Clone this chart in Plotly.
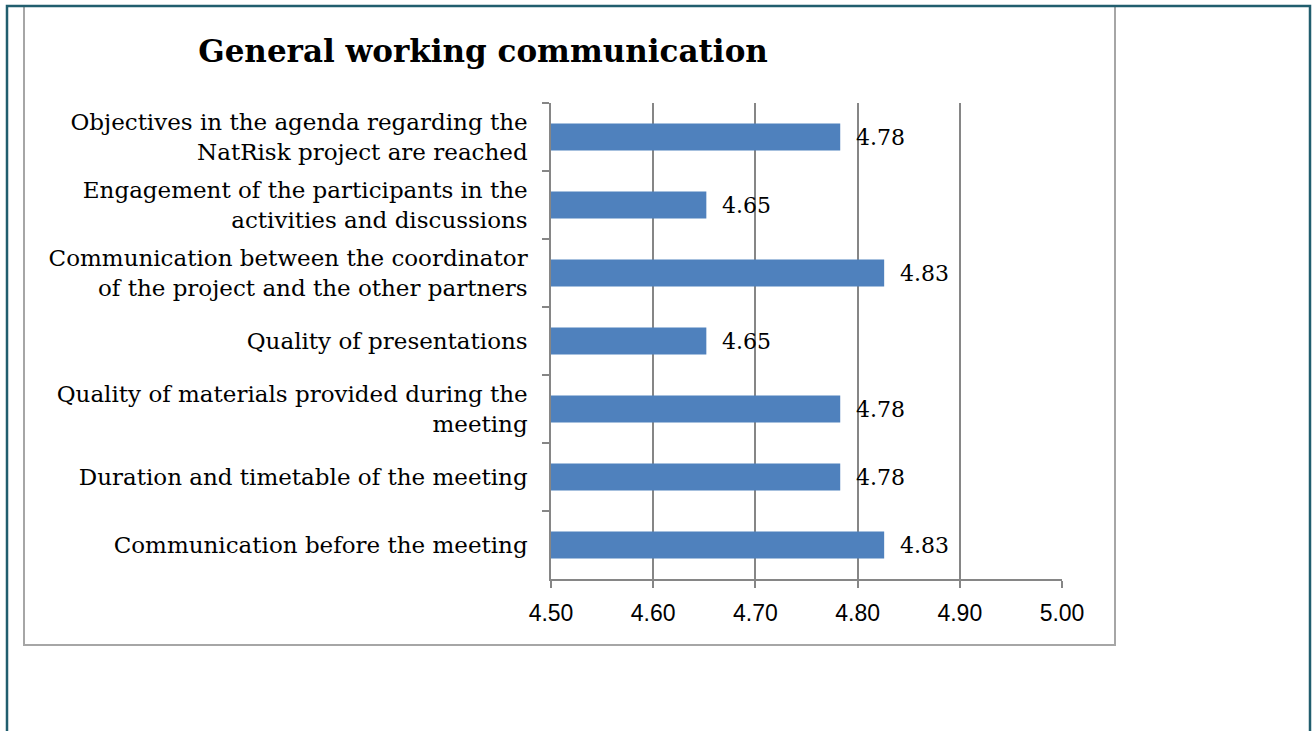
import plotly.graph_objects as go

# data, top to bottom as in the chart
categories = [
    "Objectives in the agenda regarding the<br>NatRisk project are reached",
    "Engagement of the participants in the<br>activities and discussions",
    "Communication between the coordinator<br>of the project and the other partners",
    "Quality of presentations",
    "Quality of materials provided during the<br>meeting",
    "Duration and timetable of the meeting",
    "Communication before the meeting",
]
scores = [4.783, 4.652, 4.826, 4.652, 4.783, 4.783, 4.826]
x_ticks = [4.5, 4.6, 4.7, 4.8, 4.9, 5.0]

W, H = 1314, 731
L, T = 551, 103
R = W - 1062
B = H - 579
pw, ph = W - L - R, H - T - B


def px(x):
    # screen pixel -> paper x
    return (x - L) / pw


def py(y):
    # screen pixel -> paper y
    return (H - B - y) / ph


serif = "DejaVu Serif"
grid = "#868686"

fig = go.Figure()
fig.add_trace(go.Bar(
    x=scores, y=categories, orientation="h",
    marker=dict(color="#4F81BD", line=dict(width=0)),
    hoverinfo="x+y",
))

# value labels a bit right of bar ends
for c, v in zip(categories, scores):
    fig.add_annotation(x=v, y=c, text="%.2f" % v, showarrow=False,
                       xanchor="left", xshift=14,
                       font=dict(family=serif, size=22, color="black"))

shapes = [
    # grey chart frame
    dict(type="rect", xref="paper", yref="paper",
         x0=px(24), x1=px(1115), y0=py(6), y1=py(645),
         line=dict(color="#a6a6a6", width=2), layer="below"),
    # outer teal page frame, open at the bottom
    dict(type="path", xref="paper", yref="paper",
         path="M %f %f L %f %f L %f %f L %f %f" % (
             px(7), py(740), px(7), py(6), px(1310), py(6), px(1310), py(740)),
         line=dict(color="#215E6E", width=2.5)),
]

fig.update_layout(
    width=W, height=H,
    margin=dict(l=L, r=R, t=T, b=B),
    paper_bgcolor="white", plot_bgcolor="white",
    bargap=0.6,
    showlegend=False,
    shapes=shapes,
    title=dict(text="<b>General working communication</b>",
               x=483 / W, xref="container", xanchor="center",
               y=1 - 51 / H, yref="container", yanchor="middle",
               font=dict(family=serif, size=31, color="black")),
)

fig.update_xaxes(
    range=[4.5, 5.0], tickvals=x_ticks, tickformat=".2f",
    showgrid=True, gridcolor=grid, gridwidth=1.5,
    showline=True, linecolor=grid, linewidth=1.5,
    ticks="outside", ticklen=7, tickcolor=grid, tickwidth=1.5,
    ticklabelstandoff=6,
    tickfont=dict(family="Liberation Sans", size=23, color="black"),
    zeroline=False, fixedrange=True,
)
fig.update_yaxes(
    autorange="reversed", type="category",
    showline=True, linecolor=grid, linewidth=1.5,
    ticks="outside", ticklen=7, tickcolor=grid, tickwidth=1.5,
    tickson="boundaries", ticklabelstandoff=17,
    tickfont=dict(family=serif, size=23, color="black"),
    showgrid=False, fixedrange=True,
)

# drop the default body margin so the figure fills the window exactly
fig.write_html("out.html",
               config={"displayModeBar": False},
               post_script="document.body.style.margin='0';"
                           "document.body.style.overflow='hidden';")
